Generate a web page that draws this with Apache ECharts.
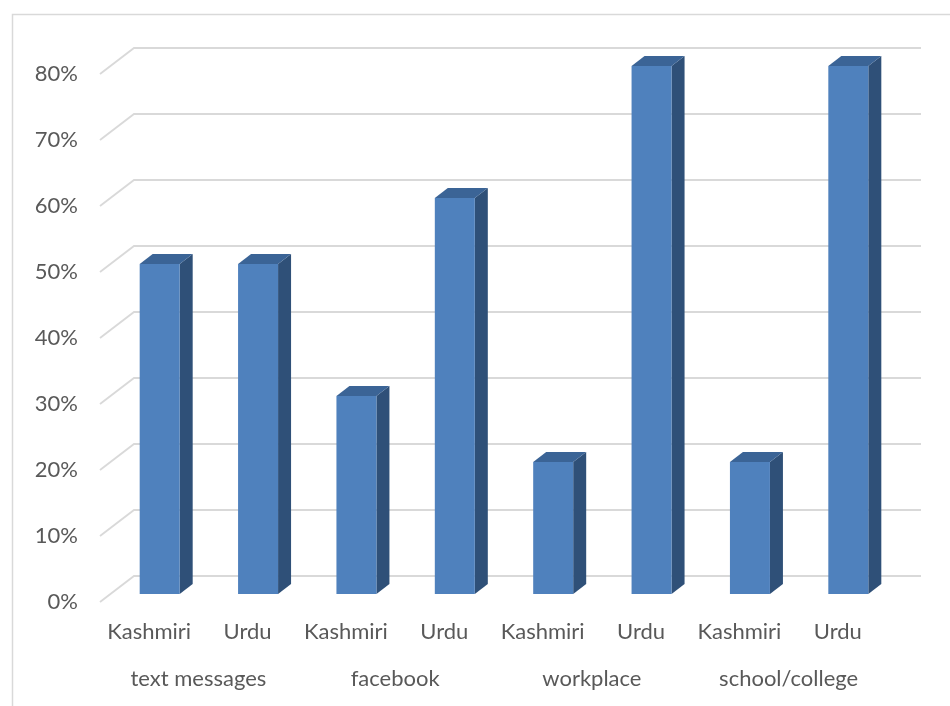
<!DOCTYPE html>
<html>
<head>
<meta charset="utf-8">
<script src="https://cdn.jsdelivr.net/npm/echarts@6/dist/echarts.min.js"></script>
<style>
  html, body { margin: 0; padding: 0; background: #ffffff; }
  #chart { width: 950px; height: 706px; }
</style>
</head>
<body>
<div id="chart"></div>
<script>
// Language used per context (share of respondents, %)
const languages = ['Kashmiri', 'Urdu', 'Kashmiri', 'Urdu', 'Kashmiri', 'Urdu', 'Kashmiri', 'Urdu'];
const contexts = ['text messages', 'facebook', 'workplace', 'school/college'];
const shares = [50, 50, 30, 60, 20, 80, 20, 80];
const yTicks = [0, 10, 20, 30, 40, 50, 60, 70, 80];

// 3D look: depth of the floor and of each column (pixels)
const FLOOR_DX = 34, FLOOR_DY = 26;
const BAR_DX = 13, BAR_DY = 10;
const BAR_HALF = 20;
const INSET_DX = 10.5, INSET_DY = 8;   // column front face sits inside the floor depth

const textColor = '#595959';
const gridColor = '#D9D9D9';
const fontFamily = 'Lato, "Open Sans", sans-serif';

const chart = echarts.init(document.getElementById('chart'), null, { renderer: 'canvas' });

function renderGridLine(params, api) {
  const cs = params.coordSys;
  const y = api.coord([0, api.value(0)])[1];
  return {
    type: 'polyline',
    shape: {
      points: [
        [cs.x, y],
        [cs.x + FLOOR_DX, y - FLOOR_DY],
        [cs.x + cs.width + FLOOR_DX, y - FLOOR_DY]
      ]
    },
    style: { stroke: gridColor, lineWidth: 1.8, fill: null },
    silent: true
  };
}

function renderColumn(params, api) {
  const top = api.coord([api.value(0), api.value(1)]);
  const base = api.coord([api.value(0), 0]);
  const cx = top[0] + INSET_DX;
  const yt = top[1] - INSET_DY;
  const yb = base[1] - INSET_DY;
  const l = cx - BAR_HALF, r = cx + BAR_HALF;
  return {
    type: 'group',
    children: [
      {
        type: 'polygon',
        shape: { points: [[r, yt], [r + BAR_DX, yt - BAR_DY], [r + BAR_DX, yb - BAR_DY], [r, yb]] },
        style: { fill: '#2F5078' }
      },
      {
        type: 'polygon',
        shape: { points: [[l, yt], [l + BAR_DX, yt - BAR_DY], [r + BAR_DX, yt - BAR_DY], [r, yt]] },
        style: { fill: '#3B6496' }
      },
      {
        type: 'rect',
        shape: { x: l, y: yt, width: r - l, height: yb - yt },
        style: { fill: '#4F81BD' }
      }
    ]
  };
}

const option = {
  backgroundColor: '#ffffff',
  animation: false,
  graphic: [{
    type: 'rect',
    left: 10, top: 12,
    shape: { width: 960, height: 720 },
    style: { fill: null, stroke: gridColor, lineWidth: 1.5 },
    silent: true
  }],
  grid: { left: 100, right: 63, top: 74, bottom: 104, containLabel: false },
  xAxis: [
    {
      type: 'category',
      data: languages,
      axisLine: { show: false },
      axisTick: { show: false },
      splitLine: { show: false },
      axisLabel: { color: textColor, fontSize: 22, fontFamily: fontFamily, margin: 19, interval: 0 }
    },
    {
      type: 'category',
      data: contexts,
      position: 'bottom',
      offset: 48,
      axisLine: { show: false },
      axisTick: { show: false },
      splitLine: { show: false },
      axisLabel: { color: textColor, fontSize: 22, fontFamily: fontFamily, margin: 18, interval: 0 }
    }
  ],
  yAxis: {
    type: 'value',
    min: 0, max: 80, interval: 10,
    axisLine: { show: false },
    axisTick: { show: false },
    splitLine: { show: false },
    axisLabel: { color: textColor, fontSize: 22, fontFamily: fontFamily, margin: 22, formatter: '{value}%' }
  },
  series: [
    {
      type: 'custom',
      name: 'grid',
      xAxisIndex: 0,
      data: yTicks.map(v => [v]),
      encode: { y: 0 },
      renderItem: renderGridLine,
      z: 1,
      silent: true
    },
    {
      type: 'custom',
      name: 'share',
      xAxisIndex: 0,
      data: shares.map((v, i) => [i, v]),
      encode: { x: 0, y: 1 },
      renderItem: renderColumn,
      z: 2
    }
  ]
};

chart.setOption(option);
</script>
</body>
</html>
